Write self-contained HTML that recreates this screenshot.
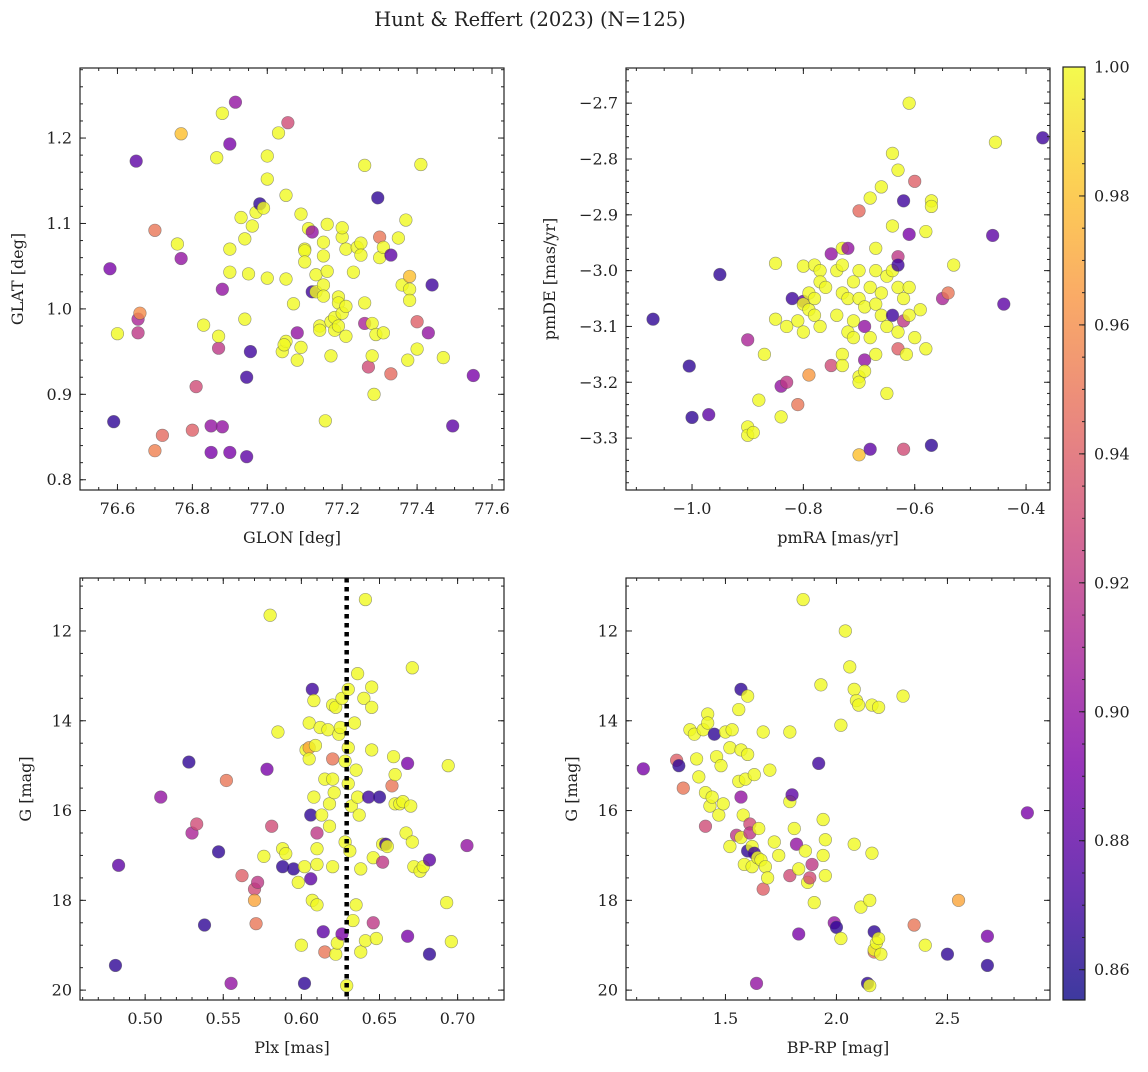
<!DOCTYPE html>
<html><head><meta charset="utf-8">
<style>
html,body{margin:0;padding:0;background:#fff;}
svg text{font-family:"DejaVu Serif","Liberation Serif",serif;fill:#222;}
</style></head>
<body>
<svg id="fig" width="1148" height="1067" viewBox="0 0 1148 1067" xmlns="http://www.w3.org/2000/svg">
<text x="530" y="26" font-size="19.5" text-anchor="middle">Hunt &amp; Reffert (2023) (N=125)</text>
</svg>
<script>
// ---- Panel 1: GLON / GLAT ----
const glonVals=[76.58,76.6,76.59,76.65,76.655,76.66,76.655,76.7,76.7,76.72,76.76,76.77,76.77,76.81,76.8,76.83,76.85,76.85,76.865,76.87,76.87,76.88,76.88,76.88,76.9,76.9,76.9,76.9,76.915,76.93,76.94,76.94,76.945,76.945,76.95,76.955,76.96,76.97,76.98,76.99,77.0,77.0,77.0,77.03,77.05,77.055,77.05,77.04,77.05,77.045,77.07,77.08,77.08,77.09,77.09,77.1,77.1,77.1,77.11,77.12,77.12,77.13,77.13,77.14,77.14,77.15,77.15,77.15,77.15,77.155,77.16,77.16,77.17,77.17,77.18,77.18,77.19,77.19,77.19,77.2,77.2,77.2,77.21,77.21,77.21,77.23,77.24,77.25,77.25,77.26,77.26,77.26,77.27,77.28,77.28,77.29,77.285,77.295,77.3,77.3,77.31,77.31,77.33,77.33,77.35,77.36,77.37,77.375,77.38,77.38,77.38,77.4,77.4,77.41,77.43,77.44,77.47,77.495,77.55];
const glatVals=[1.047,0.971,0.868,1.173,0.988,0.995,0.972,1.092,0.834,0.852,1.076,1.059,1.205,0.909,0.858,0.981,0.863,0.832,1.177,0.954,0.968,1.229,1.023,0.862,1.193,1.07,1.043,0.832,1.242,1.107,1.082,0.988,0.92,0.827,1.041,0.95,1.097,1.113,1.123,1.118,1.179,1.152,1.036,1.206,1.133,1.218,1.035,0.95,0.962,0.958,1.006,0.972,0.94,1.111,0.955,1.07,1.068,1.055,1.094,1.02,1.09,1.04,1.02,0.98,0.975,1.078,1.062,1.028,1.015,0.869,1.099,1.044,0.985,0.945,0.975,0.99,1.014,1.007,0.98,1.084,1.095,0.995,1.07,1.003,0.968,1.043,1.072,1.077,1.063,1.168,1.007,0.983,0.932,0.983,0.945,0.97,0.9,1.13,1.084,1.06,1.072,0.972,1.063,0.924,1.083,1.028,1.104,0.94,1.038,1.023,1.01,0.985,0.953,1.169,0.972,1.028,0.943,0.863,0.922];
const p1Prob=[0.89,1,0.865,0.88,0.91,0.96,0.92,0.95,0.955,0.945,1,0.9,0.98,0.93,0.94,1,0.9,0.89,1,0.92,1,1,0.9,0.9,0.89,1,1,0.89,0.9,1,1,1,0.87,0.88,1,0.87,1,1,0.865,1,1,1,1,1,1,0.93,1,1,1,1,1,0.9,1,1,1,1,1,1,1,0.87,0.9,1,1,1,1,1,1,1,1,1,1,1,1,1,1,1,1,1,1,1,1,1,1,1,1,1,1,1,1,1,1,0.91,0.93,1,1,1,1,0.865,0.95,1,1,1,0.88,0.945,1,1,1,1,0.98,1,1,0.94,1,1,0.9,0.87,1,0.88,0.89];
// ---- Panel 2: pmRA / pmDE ----
const pmraVals=[-1.07,-1.005,-1.0,-0.97,-0.95,-0.9,-0.9,-0.9,-0.89,-0.88,-0.87,-0.85,-0.85,-0.84,-0.84,-0.83,-0.83,-0.82,-0.81,-0.81,-0.8,-0.8,-0.8,-0.8,-0.79,-0.79,-0.79,-0.78,-0.78,-0.78,-0.77,-0.77,-0.77,-0.76,-0.75,-0.75,-0.74,-0.74,-0.73,-0.73,-0.73,-0.73,-0.73,-0.72,-0.72,-0.72,-0.71,-0.71,-0.71,-0.7,-0.7,-0.7,-0.7,-0.7,-0.7,-0.69,-0.69,-0.69,-0.69,-0.68,-0.68,-0.68,-0.68,-0.67,-0.67,-0.67,-0.67,-0.66,-0.66,-0.66,-0.65,-0.65,-0.65,-0.64,-0.64,-0.64,-0.64,-0.63,-0.63,-0.63,-0.63,-0.63,-0.63,-0.62,-0.62,-0.62,-0.62,-0.615,-0.61,-0.61,-0.61,-0.61,-0.6,-0.6,-0.59,-0.58,-0.58,-0.57,-0.57,-0.57,-0.55,-0.54,-0.53,-0.46,-0.455,-0.44,-0.37];
const pmdeVals=[-3.087,-3.171,-3.263,-3.258,-3.007,-3.124,-3.28,-3.295,-3.29,-3.232,-3.15,-2.987,-3.087,-3.262,-3.207,-3.2,-3.1,-3.05,-3.24,-3.09,-2.992,-3.055,-3.06,-3.11,-3.187,-3.04,-3.07,-2.99,-3.05,-3.08,-3.0,-3.02,-3.1,-3.03,-3.17,-2.97,-3.0,-3.08,-2.96,-2.99,-3.04,-3.15,-3.17,-3.05,-3.11,-2.96,-3.02,-3.09,-3.12,-2.893,-3.0,-3.05,-3.19,-3.2,-3.33,-3.065,-3.1,-3.16,-3.18,-2.87,-3.03,-3.12,-3.32,-2.96,-3.0,-3.06,-3.15,-2.85,-3.04,-3.08,-3.1,-3.22,-3.01,-2.92,-2.79,-3.0,-3.08,-2.82,-2.975,-2.99,-3.03,-3.11,-3.14,-2.875,-3.05,-3.09,-3.32,-3.15,-2.7,-2.935,-3.03,-3.08,-3.12,-2.84,-3.07,-2.93,-3.14,-2.875,-2.885,-3.313,-3.05,-3.04,-2.99,-2.937,-2.77,-3.06,-2.762];
const p2Prob=[0.865,0.865,0.865,0.88,0.865,0.91,1,1,1,1,1,1,1,1,0.9,0.92,1,0.87,0.95,1,1,0.88,1,1,0.965,1,1,1,1,1,1,1,1,1,0.93,0.9,1,1,1,1,1,1,1,1,1,0.9,1,1,1,0.945,1,1,1,1,0.98,1,0.9,0.9,1,1,1,1,0.88,1,1,1,1,1,1,1,1,1,1,1,1,1,0.87,1,0.92,0.87,1,1,0.94,0.87,1,0.92,0.93,1,1,0.89,1,1,1,0.94,1,1,1,1,1,0.865,0.91,0.95,1,0.88,1,0.88,0.87];
// ---- Panel 3: Plx / G ----
const plxVals=[0.481,0.483,0.51,0.528,0.53,0.533,0.538,0.547,0.552,0.555,0.562,0.57,0.572,0.57,0.571,0.576,0.578,0.58,0.581,0.585,0.588,0.588,0.59,0.595,0.598,0.6,0.602,0.602,0.603,0.605,0.605,0.605,0.606,0.606,0.607,0.607,0.608,0.608,0.609,0.61,0.61,0.61,0.61,0.612,0.613,0.614,0.615,0.615,0.617,0.618,0.618,0.62,0.62,0.62,0.621,0.622,0.62,0.622,0.623,0.624,0.625,0.626,0.626,0.628,0.628,0.629,0.63,0.63,0.63,0.631,0.632,0.633,0.634,0.635,0.635,0.636,0.636,0.637,0.638,0.638,0.64,0.641,0.641,0.643,0.645,0.645,0.645,0.646,0.646,0.648,0.65,0.652,0.652,0.654,0.655,0.658,0.659,0.66,0.66,0.663,0.665,0.667,0.668,0.668,0.671,0.67,0.671,0.672,0.676,0.678,0.682,0.682,0.693,0.694,0.696,0.706];
const gPlxVals=[19.45,17.22,15.7,14.92,16.5,16.3,18.55,16.92,15.33,19.85,17.45,17.75,17.6,18.0,18.52,17.02,15.08,11.65,16.35,14.25,16.85,17.25,16.96,17.3,17.6,19.0,19.85,17.25,14.65,14.05,14.6,14.85,16.1,17.52,13.3,18.0,13.55,15.7,14.55,16.5,17.2,16.85,18.1,14.15,16.1,18.7,15.3,19.15,14.2,16.35,15.85,13.65,14.85,17.25,15.6,13.7,15.3,19.2,18.95,14.3,14.15,13.5,18.75,14.9,16.7,19.9,13.3,14.6,15.4,16.9,15.9,18.45,14.05,15.1,18.1,12.95,15.7,16.1,17.3,19.15,13.5,11.3,18.9,15.7,13.25,13.7,14.65,17.05,18.5,18.85,15.7,17.15,16.75,16.75,16.8,15.45,14.8,15.2,15.85,15.85,15.8,16.5,14.95,18.8,12.82,15.9,16.7,17.25,17.35,17.25,17.1,19.2,18.05,15.0,18.92,16.78];
const p3Prob=[0.865,0.88,0.9,0.865,0.91,0.93,0.865,0.865,0.95,0.9,0.94,0.93,0.92,0.97,0.95,1,0.89,1,0.93,1,1,0.865,1,0.865,1,1,0.865,1,1,1,0.97,1,0.865,0.88,0.87,1,1,1,1,0.92,1,1,1,1,1,0.88,1,0.95,1,1,1,1,0.95,1,1,1,1,1,1,1,1,1,0.89,1,1,1,1,1,1,1,1,1,1,1,1,1,1,1,1,1,1,1,1,0.87,1,1,1,1,0.92,1,0.865,0.92,1,0.87,1,0.95,1,1,1,1,1,1,0.89,0.89,1,1,1,1,1,1,0.88,0.865,1,1,1,0.9];
const plxLine=0.629;
// ---- Panel 4: BP-RP / G ----
const bprpVals=[1.13,1.28,1.29,1.31,1.34,1.36,1.37,1.38,1.4,1.41,1.41,1.42,1.42,1.43,1.44,1.45,1.46,1.47,1.48,1.49,1.5,1.52,1.52,1.53,1.55,1.56,1.56,1.57,1.57,1.57,1.57,1.58,1.585,1.59,1.6,1.6,1.6,1.61,1.61,1.62,1.62,1.63,1.63,1.64,1.645,1.65,1.66,1.67,1.67,1.68,1.69,1.7,1.72,1.74,1.79,1.79,1.79,1.8,1.81,1.82,1.83,1.83,1.85,1.86,1.87,1.88,1.89,1.9,1.92,1.93,1.94,1.94,1.95,1.95,1.99,2.0,2.02,2.02,2.04,2.06,2.08,2.08,2.09,2.1,2.11,2.14,2.15,2.15,2.16,2.16,2.17,2.17,2.17,2.18,2.19,2.19,2.2,2.3,2.35,2.4,2.5,2.55,2.68,2.68,2.86];
const gBprpVals=[15.07,14.88,15.0,15.5,14.2,14.3,14.85,15.25,14.2,15.6,16.35,13.85,14.05,15.9,15.7,14.3,14.8,16.1,15.0,15.85,14.25,14.6,16.8,14.2,16.55,15.35,13.75,14.65,15.7,16.6,13.3,16.1,17.2,15.3,13.45,14.75,16.9,16.3,16.5,16.8,17.25,16.95,15.2,19.85,17.05,16.4,17.1,14.25,17.75,17.25,17.5,15.1,16.7,17.0,14.25,15.8,17.45,15.65,16.4,16.75,17.3,18.75,11.3,16.9,17.6,17.5,17.2,18.05,14.95,13.2,16.2,17.0,16.65,17.45,18.5,18.6,18.85,14.1,12.0,12.8,16.75,13.3,13.55,13.65,18.15,19.85,19.9,18.0,13.65,16.95,18.7,19.15,19.1,18.95,13.7,18.85,19.2,13.45,18.55,19.0,19.2,18.0,18.8,19.45,16.05];
const p4Prob=[0.89,0.94,0.865,0.95,1,1,1,1,1,1,0.93,1,1,1,1,0.865,1,1,1,1,1,1,1,1,0.92,1,1,1,0.9,1,0.865,1,1,1,1,1,0.865,0.93,0.92,1,1,0.87,1,0.9,1,1,1,1,0.94,1,1,1,1,1,1,1,0.93,0.88,1,0.9,1,0.89,1,1,1,0.93,0.92,1,0.87,1,1,1,1,1,0.9,0.865,1,1,1,1,1,1,1,1,1,0.865,1,1,1,1,0.865,0.95,1,1,1,1,1,1,0.95,1,0.865,0.97,0.89,0.865,0.89];

const cMin=0.8553,cMax=1.0;
const plasmaStops=[[13,8,135],[75,3,161],[125,3,168],[168,34,150],[203,70,121],[229,107,93],[248,148,65],[253,195,40],[240,249,33]];
function plasma(t){t=Math.max(0,Math.min(1,t));const n=plasmaStops.length-1;const i=Math.min(n-1,Math.floor(t*n));const f=t*n-i;const a=plasmaStops[i],b=plasmaStops[i+1];
return 'rgb('+[0,1,2].map(k=>Math.round(a[k]+(b[k]-a[k])*f)).join(',')+')';}
function cnorm(v){return (v-cMin)/(cMax-cMin);}

const NS='http://www.w3.org/2000/svg';
const svg=document.getElementById('fig');
function mk(tag,attrs,parent){const e=document.createElementNS(NS,tag);for(const k in attrs)e.setAttribute(k,attrs[k]);(parent||svg).appendChild(e);return e;}
function lin(d0,d1,r0,r1){return v=>r0+(v-d0)/(d1-d0)*(r1-r0);}
function fmt(v,dec){let s=v.toFixed(dec);if(v<0)s='\u2212'+Math.abs(v).toFixed(dec);return s;}

function panel(o){
  const g=mk('g',{});
  
  
  const L=o.box[0],T=o.box[1],R=o.box[2],B=o.box[3];
  const sx=lin(o.xd[0],o.xd[1],L,R);
  const sy=o.yinv?lin(o.yd[0],o.yd[1],T,B):lin(o.yd[0],o.yd[1],B,T);
  const clipId='clip-'+o.name;
  const cp=mk('clipPath',{id:clipId},g);mk('rect',{x:L,y:T,width:R-L,height:B-T},cp);
  const pts=mk('g',{'clip-path':'url(#'+clipId+')'},g);
  
  
  for(let i=0;i<o.x.length;i++){
    const c=mk('circle',{cx:sx(o.x[i]),cy:sy(o.y[i]),r:6.3,fill:plasma(cnorm(o.c[i])),'fill-opacity':0.8,stroke:'#555','stroke-opacity':0.6,'stroke-width':0.6},pts);
    
    
  }
  if(o.vline!==undefined){
    const ln=mk('line',{x1:sx(o.vline),x2:sx(o.vline),y1:T,y2:B,stroke:'#000','stroke-width':4.5,'stroke-dasharray':'4.5,4.5'},pts);
    
    
  }
  mk('rect',{x:L,y:T,width:R-L,height:B-T,fill:'none',stroke:'#222','stroke-width':1.2},g);
  const tk=mk('g',{stroke:'#222','stroke-width':1},g);
  const eps=1e-9;
  for(let v=Math.ceil(o.xd[0]/o.xmin-eps)*o.xmin;v<=o.xd[1]+eps;v+=o.xmin){
    const X=sx(v);mk('line',{x1:X,x2:X,y1:B,y2:B-3},tk);mk('line',{x1:X,x2:X,y1:T,y2:T+3},tk);}
  for(let v=Math.ceil(o.yd[0]/o.ymin-eps)*o.ymin;v<=o.yd[1]+eps;v+=o.ymin){
    const Y=sy(v);mk('line',{x1:L,x2:L+3,y1:Y,y2:Y},tk);mk('line',{x1:R,x2:R-3,y1:Y,y2:Y},tk);}
  o.xt.forEach(v=>{const X=sx(v);mk('line',{x1:X,x2:X,y1:B,y2:B-6},tk);mk('line',{x1:X,x2:X,y1:T,y2:T+6},tk);
    const t=mk('text',{x:X,y:B+24,'font-size':16,'text-anchor':'middle'},g);t.textContent=fmt(v,o.xdec);
    });
  o.yt.forEach(v=>{const Y=sy(v);mk('line',{x1:L,x2:L+6,y1:Y,y2:Y},tk);mk('line',{x1:R,x2:R-6,y1:Y,y2:Y},tk);
    const t=mk('text',{x:L-8,y:Y+5.5,'font-size':16,'text-anchor':'end'},g);t.textContent=fmt(v,o.ydec);
    });
  const xl=mk('text',{x:(L+R)/2,y:B+53,'font-size':16,'text-anchor':'middle'},g);xl.textContent=o.xlabel;
  
  const yl=mk('text',{x:0,y:0,'font-size':16,'text-anchor':'middle',transform:'translate('+o.ylx+','+((T+B)/2)+') rotate(-90)'},g);yl.textContent=o.ylabel;
  
}

panel({name:'glon-glat-panel',box:[80,68,504,490],xd:[76.50,77.632],yd:[0.788,1.282],x:glonVals,y:glatVals,c:p1Prob,
  xt:[76.6,76.8,77.0,77.2,77.4,77.6],xdec:1,xmin:0.05,yt:[0.8,0.9,1.0,1.1,1.2],ydec:1,ymin:0.02,xlabel:'GLON [deg]',ylabel:'GLAT [deg]',ylx:23});
panel({name:'pmra-pmde-panel',box:[626,68,1050,490],xd:[-1.1186,-0.357],yd:[-3.393,-2.637],x:pmraVals,y:pmdeVals,c:p2Prob,
  xt:[-1.0,-0.8,-0.6,-0.4],xdec:1,xmin:0.05,yt:[-3.3,-3.2,-3.1,-3.0,-2.9,-2.8,-2.7],ydec:1,ymin:0.02,xlabel:'pmRA [mas/yr]',ylabel:'pmDE [mas/yr]',ylx:555});
panel({name:'plx-g-panel',box:[80,578,504,1000],xd:[0.4583,0.7297],yd:[10.82,20.22],yinv:true,x:plxVals,y:gPlxVals,c:p3Prob,vline:plxLine,
  xt:[0.50,0.55,0.60,0.65,0.70],xdec:2,xmin:0.01,yt:[12,14,16,18,20],ydec:0,ymin:0.5,xlabel:'Plx [mas]',ylabel:'G [mag]',ylx:31});
panel({name:'bprp-g-panel',box:[626,578,1050,1000],xd:[1.052,2.962],yd:[10.82,20.22],yinv:true,x:bprpVals,y:gBprpVals,c:p4Prob,
  xt:[1.5,2.0,2.5],xdec:1,xmin:0.1,yt:[12,14,16,18,20],ydec:0,ymin:0.5,xlabel:'BP-RP [mag]',ylabel:'G [mag]',ylx:577});

(function(){
  const L=1063,R=1085,T=67,B=1000;
  const g=mk('g',{});
  
  
  const defs=mk('defs',{},g);
  const lg=mk('linearGradient',{id:'cbgrad',x1:0,y1:1,x2:0,y2:0},defs);
  for(let i=0;i<=20;i++){mk('stop',{offset:(i/20),'stop-color':plasma(i/20),'stop-opacity':0.8},lg);}
  mk('rect',{x:L,y:T,width:R-L,height:B-T,fill:'url(#cbgrad)',stroke:'#222','stroke-width':1.2},g);
  const sy=lin(cMin,cMax,B,T);
  const cbTicks=[0.86,0.88,0.90,0.92,0.94,0.96,0.98,1.00];
  for(let v=0.86;v<=1.0001;v+=0.005){const Y=sy(v);mk('line',{x1:R,x2:R-3,y1:Y,y2:Y,stroke:'#222'},g);}
  cbTicks.forEach(v=>{const Y=sy(v);mk('line',{x1:R,x2:R-6,y1:Y,y2:Y,stroke:'#222'},g);
    const t=mk('text',{x:R+9,y:Y+5.5,'font-size':16},g);t.textContent=v.toFixed(2);
    });
})();
</script>
</body></html>
